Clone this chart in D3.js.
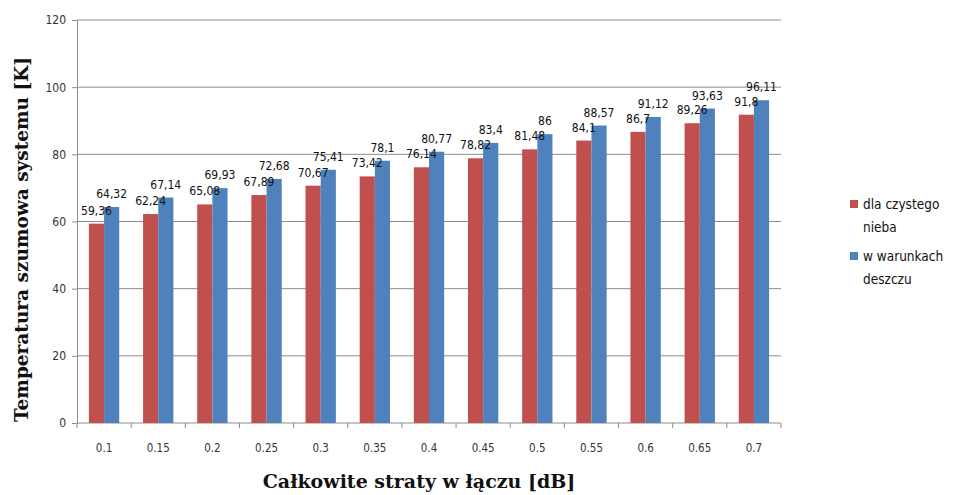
<!DOCTYPE html>
<html>
<head>
<meta charset="utf-8">
<script src="https://cdn.jsdelivr.net/npm/d3@7"></script>
<style>
  html, body { margin: 0; padding: 0; background: #fff; }
  svg { display: block; }
</style>
</head>
<body>
<svg id="chart" width="955" height="495"></svg>
<script>
// Total link loss [dB]
const categories = ["0.1", "0.15", "0.2", "0.25", "0.3", "0.35", "0.4", "0.45", "0.5", "0.55", "0.6", "0.65", "0.7"];
// System noise temperature [K]
const clearSky = [59.36, 62.24, 65.08, 67.89, 70.67, 73.42, 76.14, 78.82, 81.48, 84.1, 86.7, 89.26, 91.8];
const rain = [64.32, 67.14, 69.93, 72.68, 75.41, 78.1, 80.77, 83.4, 86, 88.57, 91.12, 93.63, 96.11];
const seriesNames = ["dla czystego nieba", "w warunkach deszczu"];
const legendLines = [["dla czystego", "nieba"], ["w warunkach", "deszczu"]];
const yTicks = [0, 20, 40, 60, 80, 100, 120];

const colors = ["#C0504D", "#4F81BD"];
const labelFont = "'DejaVu Sans Condensed', 'Liberation Sans Narrow', sans-serif";

const svg = d3.select("#chart");
const plot = { left: 77, right: 781, top: 20, bottom: 423 };

const x = d3.scaleBand().domain(categories).range([plot.left, plot.right]).padding(0);
const y = d3.scaleLinear().domain([0, 120]).range([plot.bottom, plot.top]);

const barW = x.bandwidth() * 0.28;
const series = [clearSky, rain];

// Horizontal gridlines
svg.append("g")
  .selectAll("line")
  .data(yTicks.filter(d => d > 0))
  .join("line")
  .attr("x1", plot.left).attr("x2", plot.right)
  .attr("y1", d => y(d)).attr("y2", d => y(d))
  .attr("stroke", "#8c8c8c").attr("stroke-width", 1);

// Y axis
const yAxis = svg.append("g")
  .attr("transform", `translate(${plot.left},0)`)
  .call(d3.axisLeft(y).tickValues(yTicks).tickSize(5).tickPadding(6).tickFormat(d3.format("d")));
yAxis.select(".domain").attr("stroke", "#8c8c8c");
yAxis.selectAll(".tick line").attr("stroke", "#8c8c8c");
yAxis.selectAll("text").attr("font-family", labelFont).attr("font-size", 12).attr("fill", "#333");

// X axis (ticks on category boundaries)
const xAxisG = svg.append("g").attr("transform", `translate(0,${plot.bottom})`);
xAxisG.append("line")
  .attr("x1", plot.left).attr("x2", plot.right)
  .attr("stroke", "#8c8c8c");
const boundaries = categories.map(c => x(c)).concat([plot.right]);
xAxisG.selectAll("line.tick")
  .data(boundaries)
  .join("line").attr("class", "tick")
  .attr("x1", d => d).attr("x2", d => d)
  .attr("y1", 0).attr("y2", 5)
  .attr("stroke", "#8c8c8c");
xAxisG.selectAll("text")
  .data(categories)
  .join("text")
  .attr("x", d => x(d) + x.bandwidth() / 2)
  .attr("y", 29)
  .attr("text-anchor", "middle")
  .attr("font-family", labelFont)
  .attr("font-size", 11.5)
  .attr("fill", "#333")
  .text(d => d);

// Bars
const fmt = v => String(v).replace(".", ",");
const bx = (c, si) => x(c) + x.bandwidth() / 2 - barW + si * barW;
series.forEach((vals, si) => {
  svg.append("g").selectAll("rect")
    .data(vals)
    .join("rect")
    .attr("x", (d, i) => bx(categories[i], si))
    .attr("y", d => y(d))
    .attr("width", barW)
    .attr("height", d => y(0) - y(d))
    .attr("fill", colors[si]);
});

// Value labels (drawn after all bars so they sit on top)
series.forEach((vals, si) => {
  svg.append("g").selectAll("text")
    .data(vals)
    .join("text")
    .attr("x", (d, i) => bx(categories[i], si) + barW / 2)
    .attr("y", d => y(d) - 9)
    .attr("text-anchor", "middle")
    .attr("font-family", labelFont)
    .attr("font-size", 12)
    .attr("fill", "#111")
    .text(d => fmt(d));
});

// Axis titles
svg.append("text")
  .attr("transform", `translate(28,${(plot.top + plot.bottom) / 2 + 18}) rotate(-90)`)
  .attr("text-anchor", "middle")
  .attr("font-family", "'DejaVu Serif', serif")
  .attr("font-weight", "bold")
  .attr("font-size", 18.5)
  .attr("fill", "#111")
  .text("Temperatura szumowa systemu [K]");

svg.append("text")
  .attr("x", 419).attr("y", 488)
  .attr("text-anchor", "middle")
  .attr("font-family", "'DejaVu Serif', serif")
  .attr("font-weight", "bold")
  .attr("font-size", 19)
  .attr("fill", "#111")
  .text("Całkowite straty w łączu [dB]");

// Legend
const legend = svg.append("g").attr("transform", "translate(850,0)");
const legendY = [205, 257];
seriesNames.forEach((name, i) => {
  const item = legend.append("g").attr("transform", `translate(0,${legendY[i]})`);
  item.append("rect").attr("x", 0).attr("y", -5).attr("width", 8).attr("height", 8).attr("fill", colors[i]);
  item.selectAll("text")
    .data(legendLines[i])
    .join("text")
    .attr("x", 13)
    .attr("y", (d, j) => 4 + j * 23)
    .attr("font-family", labelFont)
    .attr("font-size", 13.5)
    .attr("fill", "#111")
    .text(d => d);
});
</script>
</body>
</html>
